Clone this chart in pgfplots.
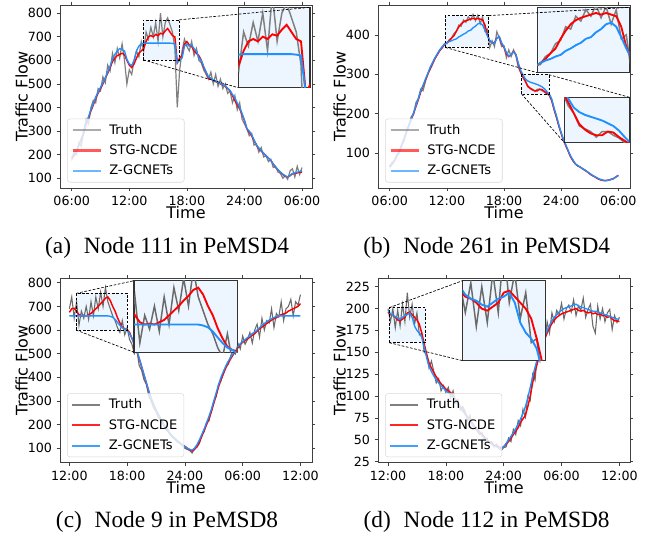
\documentclass[border=0pt]{standalone}
\usepackage{fontspec}
\setmainfont{Liberation Serif}
\newfontfamily\dejavu{DejaVu Sans}
\usepackage{pgfplots}
\pgfplotsset{compat=1.18}
\usepackage{pgfplotstable}

\definecolor{truthgray}{HTML}{7F7F7F}
\definecolor{truthdark}{HTML}{6A6A6A}
\definecolor{ncdered}{HTML}{FF0000}
\definecolor{zgblue}{HTML}{1E90FF}
\definecolor{zoomfill}{HTML}{EDF5FE}
\definecolor{spine}{HTML}{404040}

% t = hours after the first tick; columns: truth, STG-NCDE, Z-GCNETs
\pgfplotstableread{
t tr nc zg
0.00 175 185 190
0.25 215 195 200
0.50 200 215 215
0.75 250 240 240
1.00 235 265 268
1.25 300 290 295
1.50 350 330 335
1.75 330 355 360
2.00 400 385 390
2.25 430 410 415
2.50 420 440 445
2.75 480 460 465
3.00 470 480 485
3.25 530 500 505
3.50 505 525 525
3.75 580 545 550
4.00 555 570 575
4.25 630 595 605
4.50 590 610 625
4.75 650 620 640
5.00 610 625 650
5.25 670 630 645
5.50 600 625 640
5.75 500 600 605
6.00 560 580 585
6.25 540 570 578
6.50 600 585 600
6.75 640 610 640
7.00 615 630 660
7.25 680 640 670
7.50 640 650 672
7.75 720 680 673
8.00 690 700 673
8.25 740 705 673
8.50 700 700 673
8.75 760 710 673
9.00 680 705 673
9.25 800 715 673
9.50 700 712 673
9.75 760 725 673
10.00 780 735 673
10.25 750 720 673
10.50 720 705 672
10.75 650 700 670
11.00 400 590 590
11.25 560 610 600
11.50 640 620 610
11.75 690 670 660
12.00 660 680 670
12.25 640 665 660
12.50 680 660 665
12.75 620 640 650
13.00 650 630 640
13.25 600 620 610
13.50 590 600 600
13.75 560 570 575
14.00 540 550 550
14.25 520 525 530
14.50 550 520 525
14.75 500 515 515
15.00 540 510 512
15.25 490 505 505
15.50 520 500 502
15.75 480 495 497
16.00 500 490 490
16.25 460 480 482
16.50 470 470 472
16.75 420 450 455
17.00 450 430 440
17.25 390 410 420
17.50 420 395 400
17.75 350 370 375
18.00 330 345 345
18.25 310 310 310
18.50 280 295 300
18.75 290 280 285
19.00 240 260 262
19.25 245 240 240
19.50 210 225 228
19.75 230 215 218
20.00 190 205 205
20.25 195 195 195
20.50 170 185 185
20.75 180 175 175
21.00 145 160 160
21.25 150 145 148
21.50 125 135 135
21.75 120 125 125
22.00 100 115 117
22.25 110 108 110
22.50 95 105 105
22.75 130 110 112
23.00 140 118 120
23.25 105 120 122
23.50 150 122 125
23.75 115 125 128
24.00 145 125 132
}\dataA

\pgfplotstableread{
t tr nc zg
0.00 66 64 66
0.25 76 72 74
0.50 80 80 82
0.75 96 92 94
1.00 100 104 104
1.25 122 118 120
1.50 130 135 136
1.75 158 152 154
2.00 168 170 170
2.25 192 185 186
2.50 198 200 202
2.75 228 218 220
3.00 238 235 238
3.25 262 255 258
3.50 258 270 272
3.75 282 285 288
4.00 302 300 302
4.25 312 315 318
4.50 325 328 330
4.75 340 340 342
5.00 350 350 352
5.25 362 360 362
5.50 366 368 370
5.75 378 375 376
6.00 378 380 380
6.25 388 385 383
6.50 392 392 385
6.75 404 398 388
7.00 408 410 390
7.25 425 420 395
7.50 422 428 398
7.75 438 433 402
8.00 432 436 405
8.25 446 438 410
8.50 438 440 412
8.75 452 442 418
9.00 436 440 422
9.25 450 442 428
9.50 428 440 430
9.75 446 438 425
10.00 410 425 412
10.25 415 400 398
10.50 368 385 386
10.75 385 380 380
11.00 370 380 378
11.25 408 392 392
11.50 392 395 396
11.75 370 378 380
12.00 372 368 370
12.25 342 352 355
12.50 362 345 346
12.75 345 350 350
13.00 362 358 357
13.25 348 350 350
13.50 318 325 328
13.75 305 305 310
14.00 290 294 298
14.25 282 282 288
14.50 268 270 283
14.75 265 264 280
15.00 262 260 278
15.25 256 258 276
15.50 262 258 274
15.75 262 262 271
16.00 258 261 268
16.25 255 256 263
16.50 250 252 256
16.75 246 248 250
17.00 232 235 238
17.25 210 212 215
17.50 190 192 195
17.75 168 170 172
18.00 150 150 152
18.25 132 132 134
18.50 118 118 120
18.75 104 104 105
19.00 90 90 92
19.25 80 80 82
19.50 72 72 72
19.75 67 67 68
20.00 64 64 64
20.25 60 60 60
20.50 56 56 57
20.75 52 52 52
21.00 47 47 48
21.25 43 43 44
21.50 40 40 40
21.75 36 36 37
22.00 33 33 34
22.25 31 31 32
22.50 30 30 30
22.75 30 30 30
23.00 31 31 31
23.25 33 33 33
23.50 35 35 35
23.75 39 39 39
24.00 43 43 43
}\dataB

\pgfplotstableread{
t tr nc zg
0.00 690 675 660
0.25 740 690 660
0.50 650 692 660
0.75 720 680 660
1.00 620 665 660
1.25 680 660 660
1.50 650 662 660
1.75 700 660 660
2.00 645 665 660
2.25 720 670 660
2.50 660 680 660
2.75 740 690 660
3.00 690 700 660
3.25 760 712 660
3.50 700 722 660
3.75 780 735 660
4.00 720 740 660
4.25 690 725 658
4.50 660 700 654
4.75 640 680 645
5.00 610 652 632
5.25 590 630 620
5.50 640 612 610
5.75 580 605 605
6.00 610 602 598
6.25 560 590 585
6.50 540 565 565
6.75 500 540 540
7.00 520 510 512
7.25 450 480 482
7.50 430 445 448
7.75 390 410 412
8.00 370 375 378
8.25 320 340 342
8.50 300 310 312
8.75 270 285 286
9.00 255 262 262
9.25 230 242 242
9.50 215 222 222
9.75 200 205 205
10.00 180 188 188
10.25 170 175 175
10.50 155 160 160
10.75 145 150 150
11.00 135 140 140
11.25 125 130 130
11.50 120 122 122
11.75 110 115 115
12.00 100 108 108
12.25 95 100 100
12.50 90 94 95
12.75 80 88 92
13.00 98 95 100
13.25 104 108 115
13.50 120 125 135
13.75 155 150 158
14.00 170 175 182
14.25 210 200 208
14.50 215 225 235
14.75 260 255 265
15.00 300 290 300
15.25 318 325 335
15.50 372 360 370
15.75 385 390 400
16.00 420 415 425
16.25 445 440 448
16.50 455 460 468
16.75 490 478 485
17.00 520 495 500
17.25 500 510 515
17.50 545 525 530
17.75 520 540 542
18.00 575 548 552
18.25 540 555 560
18.50 560 562 568
18.75 590 570 575
19.00 545 578 585
19.25 600 585 592
19.50 625 595 600
19.75 570 605 610
20.00 650 612 620
20.25 600 620 628
20.50 640 628 635
20.75 630 635 642
21.00 690 642 648
21.25 610 648 653
21.50 670 652 657
21.75 655 660 660
22.00 720 665 660
22.25 640 668 660
22.50 690 672 660
22.75 700 680 660
23.00 730 685 660
23.25 660 690 660
23.50 720 695 660
23.75 705 700 660
24.00 750 712 660
}\dataC

\pgfplotstableread{
t tr nc zg
0.00 200 196 198
0.25 185 193 194
0.50 200 192 192
0.75 178 190 191
1.00 198 187 189
1.25 180 186 188
1.50 205 188 190
1.75 185 190 192
2.00 218 195 193
2.25 190 196 195
2.50 205 193 190
2.75 182 190 180
3.00 195 187 175
3.25 170 182 172
3.50 172 172 167
3.75 150 160 156
4.00 148 148 144
4.25 132 138 134
4.50 140 132 128
4.75 128 127 123
5.00 115 122 119
5.25 120 118 115
5.50 106 114 112
5.75 112 111 109
6.00 104 108 106
6.25 110 106 104
6.50 98 104 102
6.75 106 100 99
7.00 92 96 95
7.25 96 92 91
7.50 84 88 87
7.75 88 84 83
8.00 82 80 79
8.25 72 76 75
8.50 78 72 71
8.75 66 69 68
9.00 64 65 64
9.25 60 62 61
9.50 56 59 58
9.75 58 56 55
10.00 50 53 52
10.25 52 50 49
10.50 46 48 47
10.75 48 46 45
11.00 42 44 43
11.25 45 43 42
11.50 40 42 41
11.75 38 41 40
12.00 41 42 42
12.25 42 45 46
12.50 52 48 50
12.75 48 52 54
13.00 62 56 58
13.25 56 60 63
13.50 72 64 68
13.75 66 70 74
14.00 85 74 80
14.25 76 78 88
14.50 100 88 98
14.75 95 100 110
15.00 125 115 122
15.25 118 128 133
15.50 148 138 143
15.75 140 148 152
16.00 170 157 160
16.25 160 165 168
16.50 185 172 175
16.75 172 178 181
17.00 195 183 186
17.25 185 187 190
17.50 198 190 193
17.75 193 192 196
18.00 206 194 198
18.25 188 195 200
18.50 200 196 201
18.75 204 197 202
19.00 196 198 203
19.25 210 199 204
19.50 192 200 205
19.75 203 198 203
20.00 198 197 202
20.25 212 198 201
20.50 190 196 200
20.75 199 195 199
21.00 205 196 198
21.25 180 194 197
21.50 172 195 197
21.75 203 193 196
22.00 188 194 195
22.25 200 192 194
22.50 185 192 193
22.75 195 190 192
23.00 199 191 191
23.25 176 188 190
23.50 192 186 189
23.75 184 186 188
24.00 190 185 188
}\dataD

\tikzset{zoomdash/.style={black, line width=0.5pt, dash pattern=on 2pt off 1.2pt}}

\pgfplotsset{
  panel/.style={
    scale only axis, anchor=south west, width=189pt,
    axis line style={spine, line width=0.6pt},
    tick align=outside, major tick length=2.5pt,
    tick style={spine, line width=0.5pt},
    xtick={0,6,12,18,24},
    /pgf/number format/assume math mode=true,
    tick label style={font=\dejavu\fontsize{9.5}{11}\selectfont},
    label style={font=\dejavu\fontsize{12}{14}\selectfont},
    xlabel={Time}, ylabel={Traffic Flow},
    xlabel style={at={(axis description cs:0.5,-0.135)}, anchor=center},
    ylabel style={at={(axis description cs:-0.152,0.5)}, anchor=center},
    legend style={at={(0.028,0.03)}, anchor=south west, draw=black!15,
      rounded corners=2pt, fill=white, fill opacity=0.8, text opacity=1,
      font=\dejavu\fontsize{9.8}{12}\selectfont, row sep=2.5pt,
      inner xsep=3pt, inner ysep=2pt},
    legend cell align=left,
  },
  % legend line with explicit colour, width and opacity
  limg/.style n args={3}{legend image code/.code={
      \draw[draw=#1, line width=#2, draw opacity=#3] (0pt,0pt) -- (21pt,0pt);
      \path (25pt,0pt);}},
  zoom/.style={scale only axis, anchor=south west, ticks=none,
    axis background/.style={fill=zoomfill},
    axis line style={black!80, line width=0.9pt}},
}

\begin{document}
\begin{tikzpicture}
\path[use as bounding box] (0pt,0pt) rectangle (489pt,402pt);

% ---------------- (a) ----------------
\begin{axis}[panel, at={(45pt,261pt)}, height=137.25pt,
  xmin=-1.22, xmax=25.04, ymin=58, ymax=835, ytick={100,200,...,800},
  xticklabels={06:00,12:00,18:00,24:00,06:00}]
  \fill[zoomfill] (axis cs:7.47,602) rectangle (axis cs:11.22,772);
  \addplot[truthgray, line width=0.9pt, limg={truthgray}{1.8pt}{0.65}] table[x=t,y=tr]{\dataA};
  \addlegendentry{Truth}
  \addplot[ncdered, line width=1.1pt, limg={ncdered}{1.8pt}{0.65}] table[x=t,y=nc]{\dataA};
  \addlegendentry{STG-NCDE}
  \addplot[zgblue, line width=1.0pt, limg={zgblue}{1.8pt}{0.65}] table[x=t,y=zg]{\dataA};
  \addlegendentry{Z-GCNETs}
  \draw[zoomdash] (axis cs:7.47,602) rectangle (axis cs:11.22,772);
  \coordinate (ra1) at (axis cs:11.22,772);
  \coordinate (ra2) at (axis cs:7.47,602);
\end{axis}
\begin{axis}[zoom, name=insA, at={(178.7pt,336.2pt)}, width=53.8pt, height=60.3pt,
  xmin=7.47, xmax=11.22, ymin=602, ymax=772]
  \addplot[truthgray, line width=1.1pt] table[x=t,y=tr]{\dataA};
  \addplot[ncdered, line width=1.4pt] table[x=t,y=nc]{\dataA};
  \addplot[zgblue, line width=1.4pt] table[x=t,y=zg]{\dataA};
\end{axis}
\draw[zoomdash] (ra1) -- (insA.north east);
\draw[zoomdash] (ra2) -- (insA.south west);

% ---------------- (b) ----------------
\begin{axis}[panel, at={(283.5pt,261pt)}, height=137.25pt,
  xmin=-1.23, xmax=25.23, ymin=11, ymax=476, ytick={100,200,300,400},
  xticklabels={06:00,12:00,18:00,24:00,06:00}]
  \fill[zoomfill] (axis cs:5.85,368) rectangle (axis cs:10.4,449);
  \fill[zoomfill] (axis cs:13.84,250) rectangle (axis cs:16.71,299);
  \addplot[truthgray, line width=0.9pt, limg={truthgray}{1.8pt}{0.65}] table[x=t,y=tr]{\dataB};
  \addlegendentry{Truth}
  \addplot[ncdered, line width=1.1pt, limg={ncdered}{1.8pt}{0.65}] table[x=t,y=nc]{\dataB};
  \addlegendentry{STG-NCDE}
  \addplot[zgblue, line width=1.0pt, limg={zgblue}{1.8pt}{0.65}] table[x=t,y=zg]{\dataB};
  \addlegendentry{Z-GCNETs}
  \draw[zoomdash] (axis cs:5.85,368) rectangle (axis cs:10.4,449);
  \draw[zoomdash] (axis cs:13.84,250) rectangle (axis cs:16.71,299);
  \coordinate (rb1) at (axis cs:10.4,449);
  \coordinate (rb2) at (axis cs:5.85,368);
  \coordinate (rb3) at (axis cs:16.71,299);
  \coordinate (rb4) at (axis cs:13.84,250);
\end{axis}
\begin{axis}[zoom, name=insB, at={(403pt,347.5pt)}, width=69pt, height=49pt,
  xmin=5.85, xmax=10.4, ymin=368, ymax=449]
  \addplot[truthgray, line width=1.1pt] table[x=t,y=tr]{\dataB};
  \addplot[ncdered, line width=1.4pt] table[x=t,y=nc]{\dataB};
  \addplot[zgblue, line width=1.4pt] table[x=t,y=zg]{\dataB};
\end{axis}
\begin{axis}[zoom, name=insBB, at={(423.3pt,295pt)}, width=48.8pt, height=34pt,
  xmin=13.84, xmax=16.71, ymin=250, ymax=299]
  \addplot[truthgray, line width=1.1pt] table[x=t,y=tr]{\dataB};
  \addplot[ncdered, line width=1.4pt] table[x=t,y=nc]{\dataB};
  \addplot[zgblue, line width=1.4pt] table[x=t,y=zg]{\dataB};
\end{axis}
\draw[zoomdash] (rb1) -- (insB.north east);
\draw[zoomdash] (rb2) -- (insB.south west);
\draw[zoomdash] (rb3) -- (insBB.north east);
\draw[zoomdash] (rb4) -- (insBB.south west);

% ---------------- (c) ----------------
\begin{axis}[panel, at={(45pt,55pt)}, height=138.3pt,
  xmin=-0.97, xmax=25.2, ymin=39, ymax=819, ytick={100,200,...,800},
  xticklabels={12:00,18:00,24:00,06:00,12:00}]
  \fill[zoomfill] (axis cs:0.7,600) rectangle (axis cs:6.03,755);
  \addplot[truthdark, line width=0.8pt, limg={truthdark}{1.3pt}{0.85}] table[x=t,y=tr]{\dataC};
  \addlegendentry{Truth}
  \addplot[ncdered, line width=1.1pt, limg={ncdered}{1.3pt}{0.85}] table[x=t,y=nc]{\dataC};
  \addlegendentry{STG-NCDE}
  \addplot[zgblue, line width=1.0pt, limg={zgblue}{1.3pt}{0.85}] table[x=t,y=zg]{\dataC};
  \addlegendentry{Z-GCNETs}
  \draw[zoomdash] (axis cs:0.7,600) rectangle (axis cs:6.03,755);
  \coordinate (rc1) at (axis cs:0.7,755);
  \coordinate (rc2) at (axis cs:0.7,600);
\end{axis}
\begin{axis}[zoom, name=insC, at={(100.5pt,137.8pt)}, width=77.8pt, height=53.7pt,
  xmin=0.7, xmax=6.03, ymin=600, ymax=755]
  \addplot[truthdark, line width=1.1pt] table[x=t,y=tr]{\dataC};
  \addplot[ncdered, line width=1.4pt] table[x=t,y=nc]{\dataC};
  \addplot[zgblue, line width=1.4pt] table[x=t,y=zg]{\dataC};
\end{axis}
\draw[zoomdash] (rc1) -- (insC.north west);
\draw[zoomdash] (rc2) -- (insC.south west);

% ---------------- (d) ----------------
\begin{axis}[panel, at={(283.5pt,55pt)}, height=138.3pt,
  xmin=-1.04, xmax=25.1, ymin=23.9, ymax=234.6, ytick={25,50,...,225},
  xticklabels={12:00,18:00,24:00,06:00,12:00}]
  \fill[zoomfill] (axis cs:0.13,161) rectangle (axis cs:3.91,201);
  \addplot[truthdark, line width=0.8pt, limg={truthdark}{1.3pt}{0.85}] table[x=t,y=tr]{\dataD};
  \addlegendentry{Truth}
  \addplot[ncdered, line width=1.1pt, limg={ncdered}{1.3pt}{0.85}] table[x=t,y=nc]{\dataD};
  \addlegendentry{STG-NCDE}
  \addplot[zgblue, line width=1.0pt, limg={zgblue}{1.3pt}{0.85}] table[x=t,y=zg]{\dataD};
  \addlegendentry{Z-GCNETs}
  \draw[zoomdash] (axis cs:0.13,161) rectangle (axis cs:3.91,201);
  \coordinate (rd1) at (axis cs:0.13,201);
  \coordinate (rd2) at (axis cs:0.13,161);
\end{axis}
\begin{axis}[zoom, name=insD, at={(347pt,131.5pt)}, width=62.3pt, height=60pt,
  xmin=0.13, xmax=3.91, ymin=161, ymax=201]
  \addplot[truthdark, line width=1.1pt] table[x=t,y=tr]{\dataD};
  \addplot[ncdered, line width=1.4pt] table[x=t,y=nc]{\dataD};
  \addplot[zgblue, line width=1.4pt] table[x=t,y=zg]{\dataD};
\end{axis}
\draw[zoomdash] (rd1) -- (insD.north west);
\draw[zoomdash] (rd2) -- (insD.south west);

% ---------------- captions ----------------
\node[font=\fontsize{17.5}{20}\selectfont] at (125.3pt,216pt) {(a)\hspace{0.3em} Node 111 in PeMSD4};
\node[font=\fontsize{17.5}{20}\selectfont] at (365pt,216pt) {(b)\hspace{0.3em} Node 261 in PeMSD4};
\node[font=\fontsize{17.5}{20}\selectfont] at (125.3pt,10.5pt) {(c)\hspace{0.3em} Node 9 in PeMSD8};
\node[font=\fontsize{17.5}{20}\selectfont] at (365pt,10.5pt) {(d)\hspace{0.3em} Node 112 in PeMSD8};
\end{tikzpicture}
\end{document}
